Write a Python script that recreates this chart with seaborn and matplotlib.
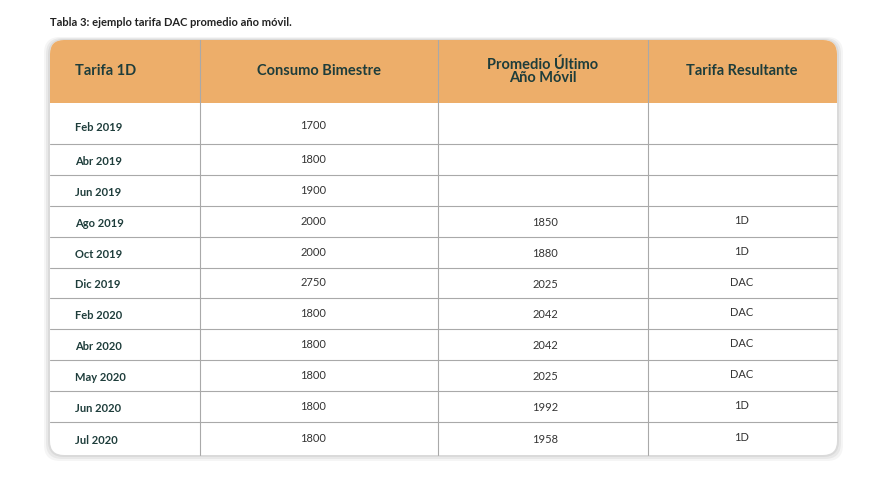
import matplotlib
matplotlib.use("Agg")
import matplotlib.pyplot as plt
import seaborn as sns
from matplotlib.patches import FancyBboxPatch, Rectangle

sns.set_theme(style="white")
plt.rcParams['font.family'] = ['Lato', 'DejaVu Sans']

# data
title = "Tabla 3: ejemplo tarifa DAC promedio año móvil."
headers = ["Tarifa 1D", "Consumo Bimestre", "Promedio Último\nAño Móvil", "Tarifa Resultante"]
periods = ["Feb 2019", "Abr 2019", "Jun 2019", "Ago 2019", "Oct 2019", "Dic 2019",
           "Feb 2020", "Abr 2020", "May 2020", "Jun 2020", "Jul 2020"]
consumo = ["1700", "1800", "1900", "2000", "2000", "2750", "1800", "1800", "1800", "1800", "1800"]
promedio = ["", "", "", "1850", "1880", "2025", "2042", "2042", "2025", "1992", "1958"]
tarifa = ["", "", "", "1D", "1D", "DAC", "DAC", "DAC", "DAC", "1D", "1D"]

HEAD = "#EDAE6A"
TXT = "#1E3D3B"
LINE = "#A9A9A9"

fig = plt.figure(figsize=(8.78, 4.87), dpi=100)
ax = fig.add_axes([0, 0, 1, 1])
ax.set_xlim(0, 878)
ax.set_ylim(487, 0)
ax.axis("off")

x0, x1 = 50, 837
ytop, yhead, ybot = 40, 103, 455
cols = [50, 200, 438, 648, 837]

# shadow + body
for off, a in [(6, 0.04), (4, 0.05), (2, 0.06)]:
    ax.add_patch(FancyBboxPatch((x0 - off, ytop - off / 2), x1 - x0 + 2 * off, ybot - ytop + 1.5 * off,
                                boxstyle="round,pad=0,rounding_size=16", fc="black", ec="none", alpha=a))
ax.add_patch(FancyBboxPatch((x0, ytop), x1 - x0, ybot - ytop,
                            boxstyle="round,pad=0,rounding_size=14", fc="white", ec="none"))
ax.add_patch(FancyBboxPatch((x0, ytop), x1 - x0, yhead - ytop + 20,
                            boxstyle="round,pad=0,rounding_size=14", fc=HEAD, ec="none"))
ax.add_patch(Rectangle((x0, yhead), x1 - x0, 22, fc="white", ec="none"))

ax.text(50, 22, title, fontsize=8, fontweight="bold", color="#222222", va="center")

# row boundaries
n = len(periods)
bounds = [yhead, 144] + [144 + (422 - 144) / 9 * i for i in range(1, 10)] + [ybot]
for b in bounds[1:-1]:
    ax.plot([x0, x1], [b, b], color=LINE, lw=0.8)
for c in cols[1:-1]:
    ax.plot([c, c], [ytop, ybot], color=LINE, lw=0.8)

# header
hx = [75, 319, 543, 742]
for i, h in enumerate(headers):
    ax.text(hx[i], 71 if "\n" not in h else 71, h, fontsize=10.5, fontweight="bold", color=TXT,
            ha="left" if i == 0 else "center", va="center", linespacing=0.95)

# body
for r in range(n):
    yc = (bounds[r] + bounds[r + 1]) / 2 + (4 if r == 0 else 2)
    ax.text(75, yc, periods[r], fontsize=8, fontweight="bold", color=TXT, va="center")
    ax.text(313, yc - 2, consumo[r], fontsize=8, color="#333333", ha="center", va="center")
    ax.text(545, yc - 1, promedio[r], fontsize=8, color="#333333", ha="center", va="center")
    ax.text(742, yc - 3, tarifa[r], fontsize=8, color="#333333", ha="center", va="center")

fig.savefig("out.png", dpi=100, facecolor="white")
